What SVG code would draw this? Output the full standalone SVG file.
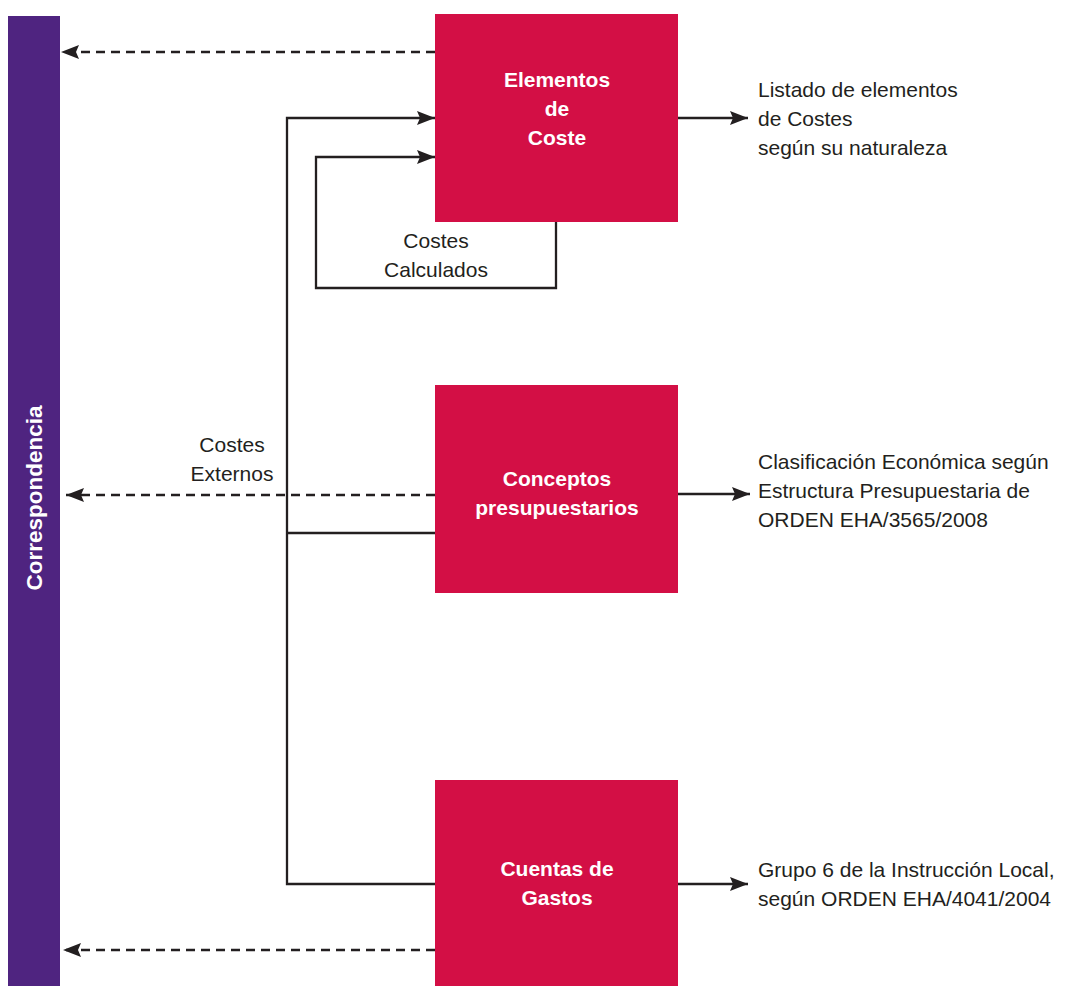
<svg xmlns="http://www.w3.org/2000/svg" width="1069" height="986" viewBox="0 0 1069 986">
  <style>
    .box { fill: #d30f45; }
    .bar { fill: #4f2480; }
    .label { font-family: "Liberation Sans", Arial, Helvetica, sans-serif; font-weight: bold; font-size: 21px; fill: #ffffff; text-anchor: middle; }
    .note { font-family: "Liberation Sans", Arial, Helvetica, sans-serif; font-size: 21px; fill: #231f20; }
    .mid { text-anchor: middle; }
    .wire { fill: none; stroke: #231f20; stroke-width: 2.3; }
    .dash { stroke-dasharray: 9 6; }
  </style>
  <defs>
    <marker id="head" markerUnits="userSpaceOnUse" markerWidth="20" markerHeight="16" refX="0" refY="0" orient="auto" overflow="visible">
      <path d="M0,0 L-18,-7 L-15,0 L-18,7 Z" fill="#231f20"/>
    </marker>
  </defs>

  <rect width="1069" height="986" fill="#ffffff"/>

  <!-- vertical correspondence bar -->
  <g id="correspondencia">
    <rect class="bar" x="8" y="16" width="52" height="970"/>
    <text class="label" transform="translate(42,498) rotate(-90)" x="0" y="0" style="font-size:22.5px">Correspondencia</text>
  </g>

  <!-- cost element blocks -->
  <g id="elementos">
    <rect class="box" x="435" y="14" width="243" height="208"/>
    <text class="label" x="557" y="87">Elementos</text>
    <text class="label" x="557" y="116">de</text>
    <text class="label" x="557" y="145">Coste</text>
  </g>
  <g id="conceptos">
    <rect class="box" x="435" y="385" width="243" height="208"/>
    <text class="label" x="557" y="486">Conceptos</text>
    <text class="label" x="557" y="515">presupuestarios</text>
  </g>
  <g id="cuentas">
    <rect class="box" x="435" y="780" width="243" height="206"/>
    <text class="label" x="557" y="876">Cuentas de</text>
    <text class="label" x="557" y="905">Gastos</text>
  </g>

  <!-- connectors -->
  <g id="connectors">
    <path class="wire dash" d="M435,52 H61" marker-end="url(#head)"/>
    <path class="wire dash" d="M435,495 H66" marker-end="url(#head)"/>
    <path class="wire dash" d="M435,950 H63" marker-end="url(#head)"/>
    <path class="wire" d="M435,884 H287 V118 H435" marker-end="url(#head)"/>
    <path class="wire" d="M435,533 H287"/>
    <path class="wire" d="M556,222 V288 H316 V157 H435" marker-end="url(#head)"/>
    <path class="wire" d="M678,118 H748" marker-end="url(#head)"/>
    <path class="wire" d="M678,494 H750" marker-end="url(#head)"/>
    <path class="wire" d="M678,884 H748" marker-end="url(#head)"/>
  </g>

  <!-- flow labels -->
  <g id="costes-calculados">
    <text class="note mid" x="436" y="248">Costes</text>
    <text class="note mid" x="436" y="277">Calculados</text>
  </g>
  <g id="costes-externos">
    <text class="note mid" x="232" y="452">Costes</text>
    <text class="note mid" x="232" y="481">Externos</text>
  </g>

  <!-- output descriptions -->
  <g id="listado">
    <text class="note" x="758" y="97">Listado de elementos</text>
    <text class="note" x="758" y="126">de Costes</text>
    <text class="note" x="758" y="155">según su naturaleza</text>
  </g>
  <g id="clasificacion">
    <text class="note" x="758" y="469">Clasificación Económica según</text>
    <text class="note" x="758" y="498">Estructura Presupuestaria de</text>
    <text class="note" x="758" y="527">ORDEN EHA/3565/2008</text>
  </g>
  <g id="grupo6">
    <text class="note" x="758" y="877">Grupo 6 de la Instrucción Local,</text>
    <text class="note" x="758" y="906">según ORDEN EHA/4041/2004</text>
  </g>
</svg>
